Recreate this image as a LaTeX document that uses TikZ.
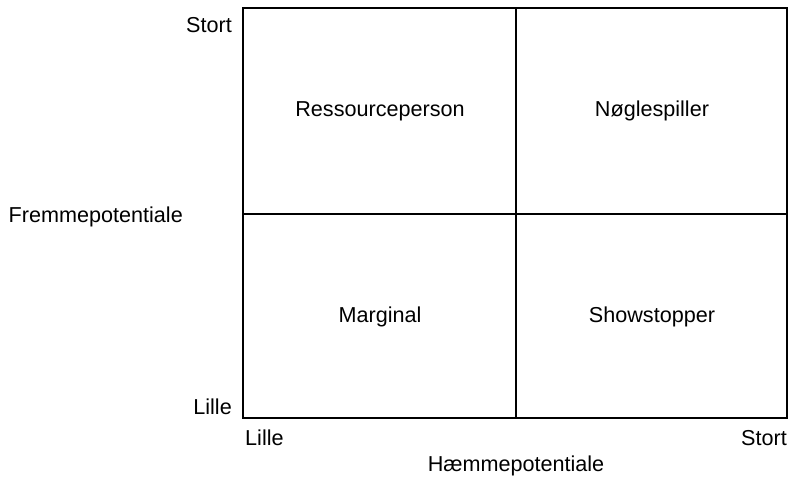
\documentclass[tikz,border=0pt]{standalone}
\usepackage{fontspec}
\setmainfont{Liberation Sans}
\begin{document}
\begin{tikzpicture}[x=1pt,y=-1pt,
  lbl/.style={inner sep=0pt,font=\fontsize{21.6}{25}\selectfont},
  frame/.style={line width=2pt}]
\useasboundingbox (0,0) rectangle (796,483);
\coordinate (tl) at (243,8);
\coordinate (br) at (787,418);
\coordinate (mt) at (516,8);
\coordinate (mb) at (516,418);
\coordinate (ml) at (243,214);
\coordinate (mr) at (787,214);
\draw[frame] (tl) rectangle (br);
\draw[frame] (mt) -- (mb);
\draw[frame] (ml) -- (mr);
\node[lbl] (q1) at (380,111) {Ressourceperson};
\node[lbl] (q2) at (652,111) {Nøglespiller};
\node[lbl] (q3) at (380,317) {Marginal};
\node[lbl] (q4) at (652,317) {Showstopper};
\node[lbl,anchor=east] (ys) at (232,25) {Stort};
\node[lbl,anchor=east] (yl) at (232,407) {Lille};
\node[lbl,anchor=east] (yt) at (183,217) {Fremmepotentiale};
\node[lbl,anchor=west] (xl) at (245,438) {Lille};
\node[lbl,anchor=east] (xs) at (787,438) {Stort};
\node[lbl] (xt) at (516,466) {Hæmmepotentiale};
\end{tikzpicture}
\end{document}
